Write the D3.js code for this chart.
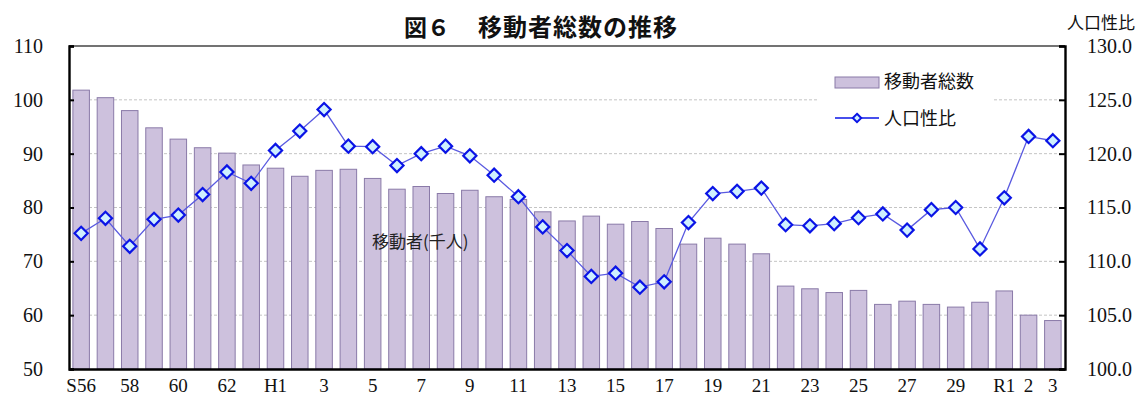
<!DOCTYPE html>
<html>
<head>
<meta charset="utf-8">
<script src="https://cdn.jsdelivr.net/npm/d3@7"></script>
<style>
  body { margin: 0; background: #fff; }
  .tick-num { font-family: "Liberation Serif", "DejaVu Serif", serif; font-size: 20px; fill: #111; }
  .jp { font-family: "Noto Sans CJK JP", sans-serif; fill: #111; }
</style>
</head>
<body>
<div id="chart"></div>
<script>
// years S56 .. R3
const years = ["S56","S57","S58","S59","S60","S61","S62","S63",
  "H1","H2","H3","H4","H5","H6","H7","H8","H9","H10","H11","H12","H13","H14","H15",
  "H16","H17","H18","H19","H20","H21","H22","H23","H24","H25","H26","H27","H28","H29","H30",
  "R1","R2","R3"];

// 移動者総数 (千人)
const movers = [101.8,100.4,98.0,94.8,92.7,91.1,90.1,87.9,
  87.3,85.8,86.9,87.1,85.4,83.4,83.9,82.6,83.2,82.0,81.5,79.2,77.5,78.4,76.9,
  77.4,76.1,73.2,74.3,73.2,71.4,65.4,64.9,64.2,64.6,62.0,62.6,62.0,61.5,62.4,
  64.5,60.0,59.0];

// 人口性比
const sexRatio = [112.6,114.0,111.4,113.9,114.3,116.2,118.3,117.25,
  120.3,122.1,124.1,120.7,120.65,118.9,120.0,120.7,119.8,118.0,116.0,113.2,111.0,108.6,108.9,
  107.6,108.1,113.6,116.3,116.5,116.8,113.4,113.3,113.5,114.05,114.4,112.9,114.8,115.0,111.15,
  115.9,121.6,121.2];

const xLabels = {"S56":"S56","S58":"58","S60":"60","S62":"62","H1":"H1","H3":"3","H5":"5","H7":"7",
  "H9":"9","H11":"11","H13":"13","H15":"15","H17":"17","H19":"19","H21":"21","H23":"23",
  "H25":"25","H27":"27","H29":"29","R1":"R1","R2":"2","R3":"3"};

const leftTicks = [50,60,70,80,90,100,110];
const rightTicks = [100,105,110,115,120,125,130];

const W = 1139, H = 400;
const margin = {top: 46, right: 74, bottom: 31, left: 69};
const width = W - margin.left - margin.right;
const height = H - margin.top - margin.bottom;

const svg = d3.select("#chart").append("svg")
  .attr("width", W).attr("height", H);

const x = d3.scaleBand().domain(years).range([0, width]).paddingInner(0.32).paddingOuter(0.16);
const yL = d3.scaleLinear().domain([50, 110]).range([height, 0]);
const yR = d3.scaleLinear().domain([100, 130]).range([height, 0]);

const plot = svg.append("g").attr("transform", `translate(${margin.left},${margin.top})`);

// gridlines
plot.append("g").selectAll("line")
  .data(leftTicks.filter(d => d > 50 && d < 110))
  .enter().append("line")
  .attr("x1", 0).attr("x2", width)
  .attr("y1", d => yL(d)).attr("y2", d => yL(d))
  .attr("stroke", "#c4c4c4").attr("stroke-width", 1).attr("stroke-dasharray", "3,2");

// legend background hides gridline
plot.append("rect")
  .attr("x", 817 - margin.left).attr("y", 62 - margin.top)
  .attr("width", 176).attr("height", 74).attr("fill", "#fff");

// bars
plot.selectAll(".bar")
  .data(movers)
  .enter().append("rect")
  .attr("class", "bar")
  .attr("x", (d, i) => x(years[i]))
  .attr("width", x.bandwidth())
  .attr("y", d => yL(d))
  .attr("height", d => height - yL(d))
  .attr("fill", "#cdc1dd")
  .attr("stroke", "#8a7aa8")
  .attr("stroke-width", 1);

// axis label inside the plot
plot.append("text").attr("class", "jp")
  .attr("x", 372 - margin.left).attr("y", 248 - margin.top)
  .attr("font-size", 17).style("fill", "#222")
  .text("移動者(千人)");

// line
const line = d3.line()
  .x((d, i) => x(years[i]) + x.bandwidth() / 2)
  .y(d => yR(d));

plot.append("path")
  .datum(sexRatio)
  .attr("d", line)
  .attr("fill", "none")
  .attr("stroke", "#5a5ae0")
  .attr("stroke-width", 1.3);

const diamond = d3.symbol().type(d3.symbolDiamond2).size(110);
plot.selectAll(".pt")
  .data(sexRatio)
  .enter().append("path")
  .attr("class", "pt")
  .attr("d", diamond)
  .attr("transform", (d, i) => `translate(${x(years[i]) + x.bandwidth() / 2},${yR(d)})`)
  .attr("fill", "#cff0ff")
  .attr("stroke", "#0a14e6")
  .attr("stroke-width", 2.2);

// frame / axes
plot.append("line").attr("x1", 0).attr("x2", width).attr("y1", 0).attr("y2", 0)
  .attr("stroke", "#444").attr("stroke-width", 1.6);

const leftAxis = d3.axisLeft(yL).tickValues(leftTicks).tickSize(-5).tickPadding(26);
const gL = plot.append("g").call(leftAxis);
gL.select(".domain").attr("stroke", "#000").attr("stroke-width", 2.4);
gL.selectAll(".tick line").attr("stroke", "#000").attr("stroke-width", 2);
gL.selectAll(".tick text").attr("class", "tick-num").attr("font-size", null).attr("font-family", null);

const rightAxis = d3.axisRight(yR).tickValues(rightTicks).tickSize(-6).tickPadding(22)
  .tickFormat(d3.format(".1f"));
const gR = plot.append("g").attr("transform", `translate(${width},0)`).call(rightAxis);
gR.select(".domain").attr("stroke", "#000").attr("stroke-width", 2.4);
gR.selectAll(".tick line").attr("stroke", "#000").attr("stroke-width", 2);
gR.selectAll(".tick text").attr("class", "tick-num").attr("font-size", null).attr("font-family", null);

const bottomAxis = d3.axisBottom(x).tickSize(0).tickPadding(10)
  .tickFormat(d => xLabels[d] || "");
const gB = plot.append("g").attr("transform", `translate(0,${height})`).call(bottomAxis);
gB.select(".domain").attr("stroke", "#000").attr("stroke-width", 2.4);
gB.selectAll(".tick text").attr("class", "tick-num").attr("font-size", null).attr("font-family", null)
  .style("font-size", "19px");

// title
svg.append("text").attr("class", "jp")
  .attr("x", 404).attr("y", 36)
  .attr("font-size", 23).attr("font-weight", "bold")
  .text("図６");
svg.append("text").attr("class", "jp")
  .attr("x", 478).attr("y", 36)
  .attr("font-size", 24).attr("font-weight", "bold")
  .attr("textLength", 199)
  .text("移動者総数の推移");

// right axis title
svg.append("text").attr("class", "jp")
  .attr("x", 1135).attr("y", 29)
  .attr("text-anchor", "end")
  .attr("font-size", 17)
  .text("人口性比");

// legend
const lg = svg.append("g");
lg.append("rect")
  .attr("x", 835).attr("y", 77).attr("width", 44).attr("height", 11)
  .attr("fill", "#cdc1dd").attr("stroke", "#8a7aa8");
lg.append("text").attr("class", "jp")
  .attr("x", 884).attr("y", 88).attr("font-size", 18)
  .text("移動者総数");
lg.append("line")
  .attr("x1", 835).attr("x2", 879).attr("y1", 118).attr("y2", 118)
  .attr("stroke", "#0a14e6").attr("stroke-width", 1.3);
lg.append("path")
  .attr("d", d3.symbol().type(d3.symbolDiamond2).size(45))
  .attr("transform", "translate(857,118)")
  .attr("fill", "#cff0ff").attr("stroke", "#0a14e6").attr("stroke-width", 2);
lg.append("text").attr("class", "jp")
  .attr("x", 884).attr("y", 125).attr("font-size", 18)
  .text("人口性比");
</script>
</body>
</html>
